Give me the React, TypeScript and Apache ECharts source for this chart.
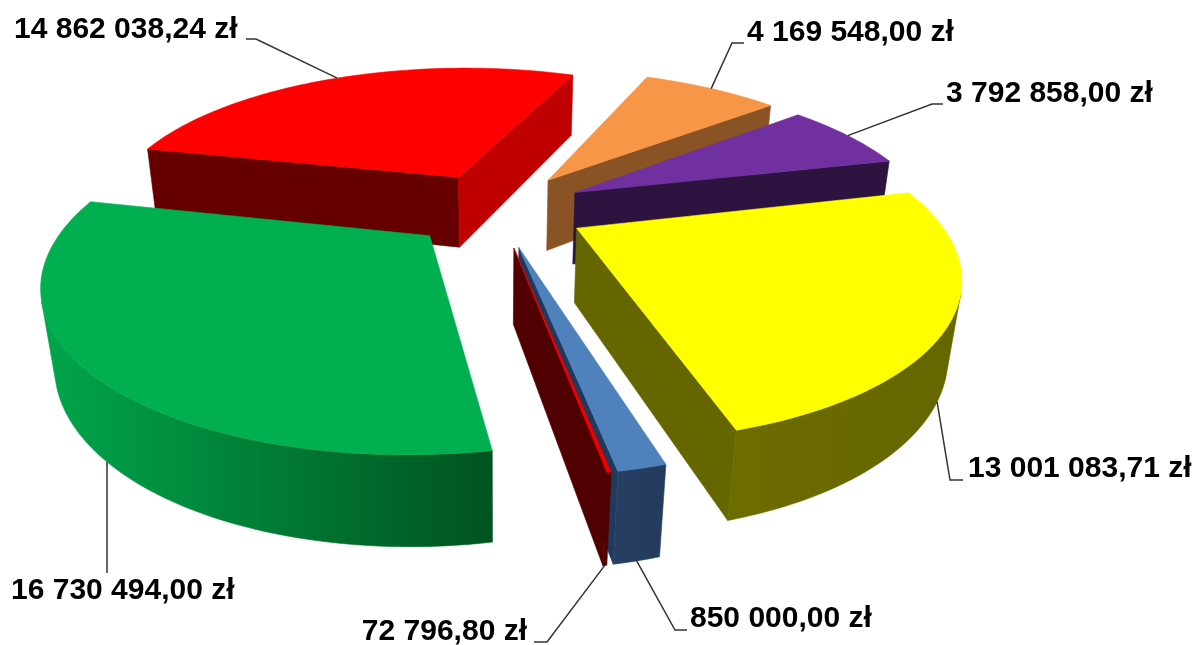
import React, { useEffect, useRef } from "react";
import * as echarts from "echarts";

const values = [14862038.24, 4169548.0, 3792858.0, 13001083.71, 850000.0, 72796.8, 16730494.0];
const topColors = ["#ff0000", "#f79646", "#7030a0", "#ffff00", "#4f81bd", "#ee0000", "#00b050"];
const startFaceColors = ["#660000", "#8a5326", "#2d1440", "#666600", "#1f3a5c", "#500000", "#005524"];
const endFaceColors = ["#c00000", "#8a5326", "#2d1440", "#666600", "#1f3a5c", "#500000", "#005524"];
const wallStartColors = ["#990000", "#8a5326", "#2d1440", "#666600", "#233c5e", "#500000", "#00531f"];
const wallEndColors = ["#990000", "#8a5326", "#2d1440", "#6c6c00", "#263f62", "#500000", "#00a64c"];
const drawOrder = [0, 1, 2, 3, 6, 4, 5];
const anchorPlane = [0, 0, 0, 1, 1, 1, 1];
const anchorFraction = [0.5, 0.5, 0.5, 0.5, 0.5, 0.5, 0.49];
const labelX = [14, 747, 946, 968, 690, 527, 11];
const labelY = [27, 30, 91.5, 466.5, 616.5, 629.5, 588];
const labelAlign = ["left", "left", "left", "left", "left", "right", "left"];
const elbows = [
  [[256, 39], [246, 39]],
  [[732, 43], [744, 43]],
  [[932, 104], [943, 104]],
  [[950, 480], [963, 480]],
  [[675, 630], [687, 630]],
  [[547, 642], [534, 642]],
  [[107, 573]],
];

// Projection of the tilted pie: centre x, centre y, scale, squash, perspective,
// explosion, first angle, bottom-plane depth, bottom-plane drop.
const CX = 497.1661, CY = 208.7758, SCALE = 355.5479, SQUASH = 0.4205, PERSPECTIVE = 0.245;
const EXPLODE = 0.2505, FIRST_ANGLE = -77.2569, DEPTH = 0.0278, DROP = 74.9186;

const D2R = Math.PI / 180;
const total = values.reduce((a, b) => a + b, 0);
const spans = values.map((v) => (v / total) * 360);
const starts: number[] = [];
values.reduce((c, _, i) => { starts.push(c); return c + spans[i]; }, FIRST_ANGLE);

function project(X: number, Y: number, plane: number) {
  const w = 1 + PERSPECTIVE * Y + (plane ? DEPTH : 0);
  return [CX + (SCALE * X) / w, CY - (SCALE * SQUASH * Y - (plane ? DROP : 0)) / w];
}
function point(i: number, angle: number | null, plane: number) {
  const b = (starts[i] + spans[i] / 2) * D2R;
  let X = EXPLODE * Math.sin(b), Y = EXPLODE * Math.cos(b);
  if (angle !== null) { X += Math.sin(angle * D2R); Y += Math.cos(angle * D2R); }
  return project(X, Y, plane);
}
function area(a: number[][]) { let s = 0; for (let i = 0; i < a.length; i++) { const b = a[(i + 1) % a.length]; s += a[i][0] * b[1] - b[0] * a[i][1]; } return s; }
function fmt(v: number) {
  const [a, b] = v.toFixed(2).split(".");
  return a.replace(/\B(?=(\d{3})+$)/g, " ") + "," + b + " zł";
}

export default function App() {
  const ref = useRef<HTMLDivElement>(null);
  useEffect(() => {
    const chart = echarts.init(ref.current!, null, { renderer: "svg" });
    const poly = (points: number[][], fill: any, z2: number) => ({ type: "polygon", z2, shape: { points }, style: { fill, stroke: fill, lineWidth: 0.6 } });
    const renderItem = (params: any, api: any) => {
      const i = params.dataIndex;
      const span = (api.value(0) / total) * 360;
      const a0 = starts[i];
      const base = drawOrder.indexOf(i) * 10;
      const children: any[] = [];
      const N = Math.max(2, Math.ceil(span / 1.5));
      const top = (g: number) => point(i, a0 + (span * g) / N, 0);
      const bot = (g: number) => point(i, a0 + (span * g) / N, 1);
      const tipT = point(i, null, 0), tipB = point(i, null, 1);
      const sf = [top(0), tipT, tipB, bot(0)];
      if (area(sf) > 0) children.push(poly(sf, startFaceColors[i], base));
      const ef = [tipT, top(N), bot(N), tipB];
      if (area(ef) > 0) children.push(poly(ef, endFaceColors[i], base));
      const upper: number[][] = [], lower: number[][] = [];
      for (let g = 0; g < N; g++) {
        if (area([top(g), top(g + 1), bot(g + 1), bot(g)]) < 0) {
          if (!upper.length) { upper.push(top(g)); lower.push(bot(g)); }
          upper.push(top(g + 1)); lower.push(bot(g + 1));
        }
      }
      if (upper.length) {
        const outline = [...upper, ...lower.reverse()];
        const xs = outline.map((q) => q[0]);
        const fill = {
          type: "linear", global: true,
          x: Math.max(...xs), y: 0, x2: Math.min(...xs), y2: 0,
          colorStops: [{ offset: 0, color: wallStartColors[i] }, { offset: 1, color: wallEndColors[i] }],
        };
        children.push(poly(outline, fill, base + 1));
      }
      const rim: number[][] = [tipT];
      for (let g = 0; g <= N; g++) rim.push(top(g));
      children.push(poly(rim, topColors[i], base + 2));
      const anchor = point(i, a0 + span * anchorFraction[i], anchorPlane[i]);
      children.push({ type: "polyline", z2: 100, shape: { points: [anchor, ...elbows[i]] }, style: { stroke: "#333333", lineWidth: 1.5, fill: "none" } });
      children.push({ type: "text", z2: 101, style: { x: labelX[i], y: labelY[i], text: fmt(values[i]), fill: "#000", fontFamily: "Liberation Sans", fontWeight: "bold", fontSize: 30, align: labelAlign[i], verticalAlign: "middle" } });
      return { type: "group", children };
    };
    chart.setOption({
      animation: false,
      series: [{ type: "custom", coordinateSystem: "none", silent: true, data: values.map((v) => [v]), renderItem }],
    });
    return () => chart.dispose();
  }, []);
  return <div ref={ref} style={{ position: "fixed", left: 0, top: 0, width: 1196, height: 645 }} />;
}
